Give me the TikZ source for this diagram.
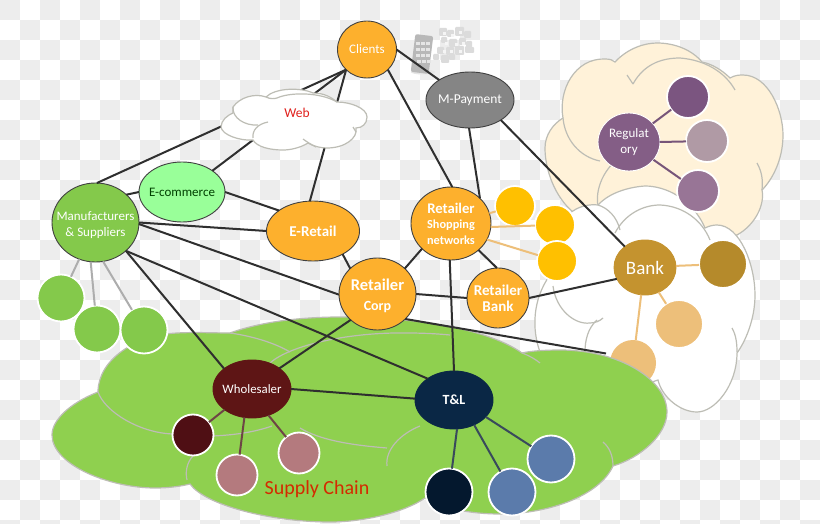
\documentclass[tikz,border=0pt]{standalone}
\usepackage{fontspec}
\setmainfont{Carlito}
\usetikzlibrary{shapes.geometric}
\definecolor{chk}{HTML}{EDEDED}
\definecolor{cream}{HTML}{FFF2D9}
\definecolor{cloudedge}{HTML}{BDBDB5}
\definecolor{leaf}{HTML}{8FD04F}
\definecolor{sap}{HTML}{84C94B}
\definecolor{mint}{HTML}{99FF99}
\definecolor{amber}{HTML}{FDB02D}
\definecolor{gold}{HTML}{FFC000}
\definecolor{peach}{HTML}{EDBF7A}
\definecolor{plum}{HTML}{845E86}
\definecolor{maroon}{HTML}{5E1515}
\definecolor{navy}{HTML}{0A2745}
\definecolor{wire}{HTML}{2F2F2F}
\definecolor{bankfill}{HTML}{C4932F}
\definecolor{bankdark}{HTML}{B58A2B}
\definecolor{plumA}{HTML}{7B5580}
\definecolor{plumB}{HTML}{B09AA5}
\definecolor{plumC}{HTML}{987596}
\definecolor{wineA}{HTML}{4F0F14}
\definecolor{wineB}{HTML}{B47A7E}
\definecolor{blueA}{HTML}{04182E}
\definecolor{blueB}{HTML}{5B7BAB}
\definecolor{webred}{HTML}{E0201C}
\definecolor{chainred}{HTML}{D42A00}
\newcommand\fz[2]{\fontsize{#1}{#2}\selectfont}
\tikzset{
  hub/.style n args={3}{ellipse,draw=#3,line width=0.9pt,fill=#1,inner sep=-30pt,outer sep=0pt,
    minimum width=#2,align=center,text=white},
  sat/.style n args={2}{circle,draw=white,line width=1.8pt,fill=#1,inner sep=0pt,outer sep=0pt,minimum size=#2},
  cloudline/.style={draw=cloudedge,line width=1.2pt},
  wirelink/.style={draw=wire,line width=2pt},
  greylink/.style={draw=black!32,line width=2pt},
  orangelink/.style={draw=peach,line width=2pt},
  plumlink/.style={draw=plum!90!black,line width=2pt},
  brownlink/.style={draw=maroon!55!gray,line width=2pt},
  slatelink/.style={draw=navy!60!gray,line width=2pt}
}
\begin{document}
\begin{tikzpicture}[x=1pt,y=-1pt]
\useasboundingbox (0,0) rectangle (820,524);
% tiled backdrop
\fill[white] (0,0) rectangle (820,524);
\begin{scope}
\clip (0,0) rectangle (820,524);
\foreach \i in {0,2,...,40}{\foreach \j in {0,2,...,26}{
  \fill[chk] (20*\i,20*\j) rectangle ++(20,20);
  \fill[chk] (20*\i+20,20*\j+20) rectangle ++(20,20);
}}
\end{scope}
% handset with floating app icons
\fill[black!10] (423,72) ellipse (12 and 2.5);
\fill[black!28,rotate around={-7:(422,54)},rounded corners=2pt] (413,35) rectangle (431,73);
\foreach \a/\b in {416/42,421/42,426/42,416/48,421/48,426/48,416/54,421/54,426/54,417/60,422/60,427/60}
  \fill[black!10] (\a,\b) rectangle ++(3.5,3.5);
\foreach \a/\b/\s in {439/28/8,447/30/7,455/27/9,464/31/7,441/37/6,449/39/8,459/38/7,466/41/6,437/47/7,446/47/8,455/46/9,465/46/7,433/54/6,441/55/8,449/54/6,468/47/6}
  \fill[black!14,rounded corners=1pt] (\a,\b) rectangle ++(\s,\s);
\foreach \a/\b/\s in {443/32/3,451/34/3,459/31/3,445/42/3,455/43/3,462/42/3,443/50/3,450/50/3,459/50/3}
  \fill[black!4] (\a,\b) rectangle ++(\s,\s);

% regulatory cloud
\path[fill=cream,cloudline] (563,118) .. controls (558,90) and (575,58) .. (605,59)
  .. controls (610,59) and (613,60) .. (615,62) .. controls (628,48) and (645,43) .. (657,43)
  .. controls (675,43) and (692,50) .. (702,62) .. controls (712,64) and (722,70) .. (730,78)
  .. controls (735,75) and (740,75) .. (743,75) .. controls (768,75) and (783,110) .. (783,135)
  .. controls (783,160) and (772,180) .. (762,190) .. controls (765,205) and (755,225) .. (737,235)
  -- (650,240) -- (573,212) .. controls (555,197) and (545,170) .. (545,148)
  .. controls (545,135) and (553,124) .. (563,118) -- cycle;
\draw[cloudline] (563,118) .. controls (565,140) and (580,157) .. (600,161);
\draw[cloudline] (598,206) .. controls (595,190) and (603,168) .. (623,155);
\draw[cloudline] (633,84) .. controls (645,62) and (665,58) .. (680,58) .. controls (705,60) and (725,72) .. (735,90);
\draw[cloudline] (627,75) -- (633,84);
\draw[cloudline] (757,163) .. controls (762,172) and (763,180) .. (762,190);

% bank cloud
\path[fill=white,cloudline] (540,352) .. controls (532,330) and (532,300) .. (550,275)
  .. controls (548,245) and (555,220) .. (573,211) .. controls (580,206) and (590,204) .. (598,205)
  .. controls (610,192) and (630,187) .. (645,186) .. controls (665,186) and (692,198) .. (705,228)
  .. controls (709,226) and (713,225) .. (717,225) .. controls (740,225) and (755,265) .. (755,295)
  .. controls (755,320) and (745,342) .. (737,353) .. controls (737,385) and (715,412) .. (697,412)
  .. controls (680,412) and (662,397) .. (658,380) -- (600,400) -- cycle;
\draw[cloudline] (598,205) .. controls (608,208) and (617,217) .. (620,230);
\draw[cloudline] (615,233) .. controls (625,214) and (643,205) .. (660,205) .. controls (683,206) and (702,220) .. (710,240);
\draw[cloudline] (732,328) .. controls (736,335) and (737,343) .. (737,352);
\draw[cloudline] (553,286) .. controls (556,310) and (575,325) .. (590,323) .. controls (595,323) and (600,321) .. (603,318);
\draw[cloudline] (597,320) .. controls (588,328) and (585,340) .. (585,352);

% peach satellite tucked under the supply chain cloud
\node[circle,fill=peach,draw=none,inner sep=0pt,outer sep=0pt,minimum size=46pt] (bankC) at (633,363) {};

% supply chain cloud
\path[fill=leaf,cloudline] (98,392) .. controls (70,403) and (52,420) .. (52,435)
  .. controls (52,465) and (110,488) .. (155,488) .. controls (170,488) and (182,486) .. (190,484)
  .. controls (205,505) and (270,522) .. (330,522) .. controls (365,522) and (405,512) .. (425,498)
  .. controls (440,508) and (470,514) .. (500,514) .. controls (550,514) and (600,495) .. (613,466)
  .. controls (640,458) and (667,435) .. (667,412) .. controls (667,380) and (620,350) .. (560,350)
  .. controls (545,350) and (530,351) .. (522,353) .. controls (490,330) and (420,317) .. (340,317)
  .. controls (300,317) and (260,322) .. (230,333) .. controls (215,333) and (195,332) .. (177,333)
  .. controls (135,335) and (98,360) .. (98,392) -- cycle;
\draw[cloudline] (230,333) .. controls (252,336) and (275,343) .. (290,352);
\draw[cloudline] (270,363) .. controls (290,345) and (350,332) .. (407,333) .. controls (425,333) and (440,334) .. (450,335);
\draw[cloudline] (522,353) .. controls (530,356) and (535,359) .. (540,363);
\draw[cloudline] (98,392) .. controls (105,412) and (140,433) .. (173,434);
\draw[cloudline] (213,436) .. controls (235,435) and (255,432) .. (272,426);
\draw[cloudline] (187,480) .. controls (185,472) and (187,462) .. (193,456);
\draw[cloudline] (300,428) .. controls (320,440) and (350,445) .. (387,448);
\draw[cloudline] (387,466) .. controls (385,450) and (400,434) .. (420,426);
\draw[cloudline] (603,442) .. controls (609,447) and (613,455) .. (613,466);

% hubs
\node[hub={amber}{59pt}{black!75},minimum height=57pt,font=\fz{13}{14}] (clients) at (367,49.5) {Clients};
\node[hub={black!48}{88pt}{black!75},minimum height=56pt,font=\fz{13.5}{16}] (mpay) at (470,100) {M-Payment};
\node[hub={sap}{87pt}{black!75},minimum height=79pt,font=\fz{13}{16}] (makers) at (95.5,222.5) {\rule{0pt}{14pt}Manufacturers\\\& Suppliers};
\node[hub={mint}{86pt}{black!75},minimum height=60pt,font=\fz{13}{15},text=green!25!black] (ecom) at (182,192) {E-commerce};
\node[hub={amber}{93pt}{black!75},minimum height=60pt,font=\fz{15}{16}\bfseries] (eretail) at (313,231) {E-Retail};
\node[hub={amber}{80pt}{black!75},minimum height=73pt,font=\fz{12.3}{15.5}\bfseries] (shop) at (451,223.5) {{\fz{14.7}{15.5}Retailer}\\Shopping\\networks};
\node[hub={amber}{77pt}{black!75},minimum height=72pt,font=\fz{16.5}{20}\bfseries] (corp) at (377.5,294) {\rule{0pt}{16pt}Retailer\\{\fz{14}{20}Corp}};
\node[hub={amber}{62pt}{black!75},minimum height=60pt,font=\fz{15}{16}\bfseries] (rbank) at (498,298) {Retailer\\Bank};
\node[hub={plum}{62pt}{white},minimum height=58pt,font=\fz{13}{16}] (reg) at (629,142) {Regulat\\ory};
\node[hub={bankfill}{62pt}{bankfill},minimum height=55pt,font=\fz{19}{20}] (bank) at (645,267.5) {Bank};
\node[hub={maroon}{78pt}{maroon},minimum height=58pt,font=\fz{12.8}{15}] (whole) at (252,389) {Wholesaler};
\node[hub={navy}{78pt}{navy},minimum height=58pt,font=\fz{14}{14}\bfseries] (tl) at (454,400) {T\&L};

% satellites
\node[sat={sap}{47pt}] (m1) at (61,298) {};
\node[sat={sap}{47pt}] (m2) at (97,329) {};
\node[sat={sap}{47pt}] (m3) at (144,330) {};
\node[sat={gold}{40pt}] (s1) at (515,206) {};
\node[sat={gold}{40pt}] (s2) at (555,225) {};
\node[sat={gold}{40pt}] (s3) at (557,261) {};
\node[sat={bankdark}{48pt}] (bankA) at (723,264) {};
\node[sat={peach}{48pt}] (bankB) at (679,324) {};
\node[sat={plumA}{42pt}] (r1) at (688,97) {};
\node[sat={plumB}{42pt}] (r2) at (707,141) {};
\node[sat={plumC}{42pt}] (r3) at (698,191) {};
\node[sat={wineA}{41pt}] (w1) at (193,435) {};
\node[sat={wineB}{41pt}] (w2) at (237,475) {};
\node[sat={wineB}{41pt}] (w3) at (299,453) {};
\node[sat={blueA}{47pt}] (t1) at (449,492) {};
\node[sat={blueB}{47pt}] (t2) at (512,492) {};
\node[sat={blueB}{47pt}] (t3) at (551,459) {};

% links that pass behind the web cloud
\draw[wirelink] (clients.224) -- (makers.88);
\draw[wirelink] (clients.224) -- (ecom.35);
\draw[wirelink] (clients.224) -- (eretail.96);

% web cloud
\path[fill=white,cloudline] (233,107) .. controls (240,97) and (255,93) .. (266,97)
  .. controls (275,88) and (300,87) .. (313,93) .. controls (325,93) and (332,98) .. (337,102)
  .. controls (350,102) and (367,108) .. (367,117) .. controls (367,124) and (362,128) .. (356,128)
  .. controls (358,138) and (345,148) .. (327,148) .. controls (320,148) and (313,146) .. (308,143)
  .. controls (300,148) and (290,150) .. (283,150) .. controls (270,150) and (257,147) .. (253,140)
  .. controls (240,141) and (222,135) .. (221,127) .. controls (221,120) and (228,115) .. (233,113)
  -- cycle;
\draw[cloudline] (233,107) .. controls (232,118) and (245,126) .. (258,125);
\draw[cloudline] (268,122) .. controls (258,124) and (252,130) .. (253,138);
\draw[cloudline] (266,97) .. controls (270,99) and (274,99) .. (277,98) .. controls (290,92) and (320,92) .. (337,102);
\draw[cloudline] (353,127) -- (356,132);
\draw[cloudline] (303,139) .. controls (307,142) and (312,145) .. (316,147);
\node[font=\fz{13.5}{14},text=webred] (webtext) at (297,112.5) {Web};

% main links
\draw[wirelink] (clients.316) -- (shop.88);
\draw[wirelink] (clients.0) -- (mpay.147);
\draw[wirelink] (mpay.268) -- (shop.41);
\draw[wirelink] (mpay.327) -- (bank.134);
\draw[wirelink] (makers.42) -- (ecom.180);
\draw[wirelink] (ecom.0) -- (eretail.149);
\draw[wirelink] (makers.0) -- (eretail.180);
\draw[wirelink] (makers.358) -- (corp.181);
\draw[wirelink] (makers.317) -- (tl.141);
\draw[wirelink] (makers.317) -- (whole.144);
\draw[wirelink] (eretail.322) -- (corp.137);
\draw[wirelink] (shop.221) -- (corp.43);
\draw[wirelink] (shop.316) -- (rbank.92);
\draw[wirelink] (corp.0) -- (rbank.180);
\draw[wirelink] (rbank.0) -- (bank.202);
\draw[wirelink] (shop.268) -- (tl.90);
\draw[wirelink] (corp.224) -- (whole.37);
\draw[wirelink] (whole.0) -- (tl.178);
\coordinate (chainEnd) at (606,353.5);
\draw[wirelink] (corp.318) -- (chainEnd);

% satellite links
\draw[greylink] (makers.246) -- (m1);
\draw[greylink] (makers.263) -- (m2);
\draw[greylink] (makers.281) -- (m3);
\draw[orangelink] (shop.15) -- (s1);
\draw[orangelink] (shop.355) -- (s2);
\draw[orangelink] (shop.336) -- (s3);
\draw[orangelink] (bank.3) -- (bankA);
\draw[orangelink] (bank.299) -- (bankB);
\draw[orangelink] (bank.262) -- (bankC);
\draw[plumlink] (reg.38) -- (r1);
\draw[plumlink] (reg.0) -- (r2);
\draw[plumlink] (reg.324) -- (r3);
\draw[brownlink] (whole.217) -- (w1);
\draw[brownlink] (whole.255) -- (w2);
\draw[brownlink] (whole.302) -- (w3);
\draw[slatelink] (tl.276) -- (t1);
\draw[slatelink] (tl.309) -- (t2);
\draw[slatelink] (tl.332) -- (t3);

\node[font=\fz{20}{22},text=chainred] (chainlabel) at (317,489) {Supply Chain};
\end{tikzpicture}
\end{document}
